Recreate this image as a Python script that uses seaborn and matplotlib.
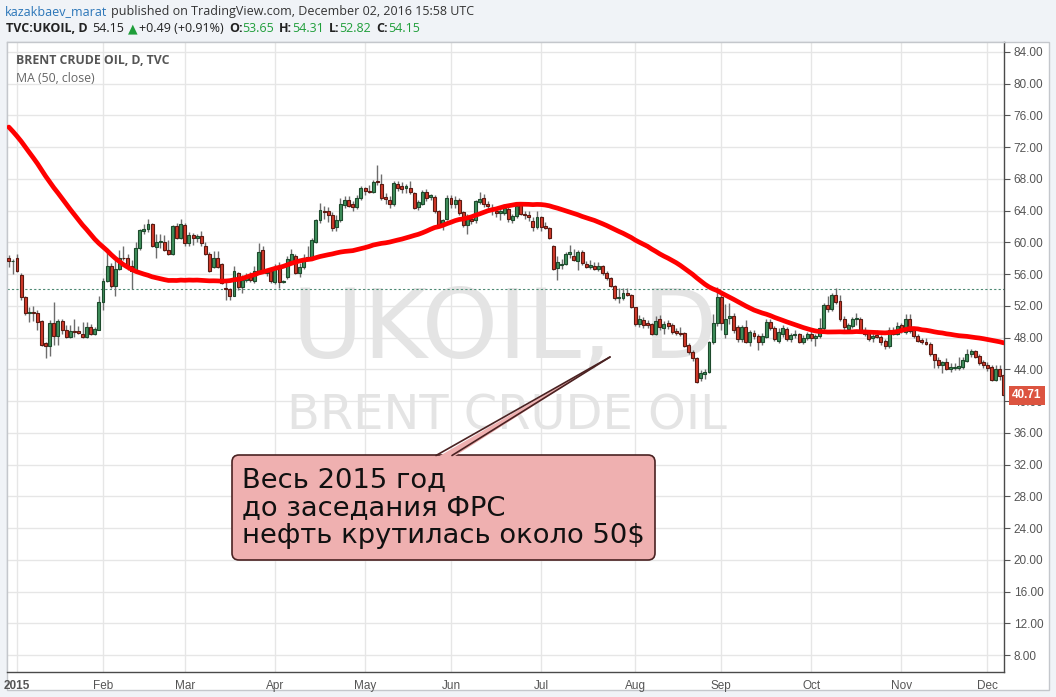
import matplotlib
matplotlib.use("Agg")
import numpy as np
import pandas as pd
import matplotlib.pyplot as plt
import seaborn as sns
from matplotlib.patches import FancyBboxPatch, Polygon, Rectangle
from matplotlib.transforms import Affine2D, blended_transform_factory

# closes before the visible window (needed for the 50-day MA)
pre_closes = [85.40, 86.22, 84.71, 86.83, 86.13, 85.83, 85.96, 87.12, 86.24, 85.86,
              84.78, 82.82, 82.95, 82.86, 83.39, 81.67, 81.67, 80.38, 77.92, 79.41,
              79.31, 78.47, 78.10, 79.33, 80.36, 79.68, 78.33, 77.75, 72.58, 70.15,
              72.54, 70.54, 69.92, 69.64, 69.07, 66.19, 66.84, 64.24, 63.68, 61.85,
              61.06, 59.86, 61.18, 59.27, 61.38, 60.11, 61.69, 60.24, 57.88]

# daily bars [open, high, low, close]
dec14 = [[58.0, 58.4, 56.9, 57.6], [57.6, 57.9, 56.0, 57.7]]
jan = [[58.1, 58.6, 56.3, 56.4], [55.9, 56.2, 52.8, 53.1], [53.1, 53.2, 50.9, 51.1],
       [51.1, 51.9, 50.0, 51.2], [51.2, 52.0, 50.1, 51.1], [51.1, 51.5, 49.0, 50.0],
       [50.1, 50.2, 47.0, 47.1], [47.3, 47.4, 45.4, 46.9], [46.9, 50.2, 45.7, 49.8],
       [49.8, 52.5, 47.1, 48.2], [48.2, 50.4, 47.1, 50.1], [50.1, 50.4, 48.5, 48.9],
       [49.0, 49.6, 48.0, 48.1], [48.1, 49.6, 48.0, 48.8], [48.8, 50.4, 48.1, 48.7],
       [48.8, 49.5, 48.4, 48.6], [48.5, 50.0, 48.0, 48.1], [48.1, 50.0, 47.9, 49.3],
       [49.3, 49.7, 48.3, 48.5], [48.5, 49.4, 48.3, 49.1], [49.0, 53.2, 48.9, 52.5]]
feb = [[52.5, 55.5, 51.5, 55.1], [55.1, 59.0, 55.0, 57.0], [57.0, 57.4, 54.3, 54.5],
       [54.5, 57.8, 53.3, 56.65], [56.6, 59.0, 56.5, 58.1], [58.1, 59.6, 57.8, 58.0],
       [58.0, 58.6, 56.5, 56.9], [57.0, 57.8, 54.1, 56.4], [56.5, 60.1, 56.4, 59.3],
       [59.3, 61.7, 59.1, 61.6], [61.5, 62.3, 61.0, 61.7], [61.7, 63.0, 61.3, 62.3],
       [62.3, 62.5, 59.4, 59.5], [59.4, 61.1, 58.0, 60.1], [60.1, 61.1, 59.3, 60.2],
       [60.1, 60.9, 58.9, 59.0], [59.0, 60.3, 58.4, 58.6], [58.6, 62.2, 58.4, 62.1],
       [62.1, 62.4, 60.4, 60.6], [60.6, 62.9, 60.4, 62.3]]
mar = [[62.2, 62.4, 59.5, 59.9], [59.9, 61.3, 59.5, 60.9], [60.9, 61.2, 59.7, 60.5],
       [60.5, 61.1, 60.0, 60.8], [60.8, 61.4, 59.6, 59.9], [59.5, 60.1, 58.4, 58.6],
       [58.5, 58.8, 56.3, 56.45], [56.95, 58.95, 56.8, 58.0], [58.0, 58.9, 56.8, 56.95],
       [57.3, 57.4, 54.7, 54.85], [54.2, 55.0, 52.8, 54.1], [54.1, 54.2, 52.75, 53.3],
       [53.3, 57.0, 53.2, 56.4], [56.1, 56.3, 54.0, 54.35], [54.4, 55.9, 53.6, 55.3],
       [55.3, 56.2, 55.0, 55.8], [55.9, 56.3, 55.0, 55.3], [55.1, 57.0, 54.9, 56.45],
       [56.45, 59.9, 56.3, 58.85], [59.0, 59.5, 56.2, 56.3], [56.1, 56.7, 55.8, 56.4],
       [56.4, 56.8, 54.9, 55.1]]
apr = [[55.05, 57.3, 54.8, 56.85], [56.85, 57.5, 54.2, 55.05], [55.05, 55.3, 54.9, 55.1],
       [55.6, 58.3, 55.4, 57.9], [57.6, 59.2, 57.3, 58.5], [58.3, 58.6, 56.0, 56.2],
       [56.1, 57.4, 55.6, 56.9], [56.9, 58.6, 56.6, 58.1], [58.1, 59.6, 57.8, 58.2],
       [58.1, 60.5, 57.9, 60.3], [60.1, 63.0, 59.9, 62.8], [62.8, 65.0, 62.5, 64.1],
       [64.0, 64.6, 62.9, 63.85], [63.95, 64.5, 62.6, 63.5], [63.5, 63.8, 61.4, 61.8],
       [62.0, 63.4, 61.5, 62.8], [62.8, 65.6, 62.6, 64.85], [64.7, 65.9, 64.3, 65.4],
       [65.4, 65.9, 64.5, 64.6], [64.85, 65.2, 64.0, 64.5], [64.5, 66.0, 64.2, 65.55],
       [65.55, 67.1, 65.4, 66.8]]
may = [[66.8, 67.0, 66.0, 66.5], [66.5, 67.3, 66.2, 66.4], [66.4, 67.9, 66.2, 67.6],
       [67.75, 69.7, 67.3, 67.6], [67.4, 68.6, 65.3, 65.6], [65.7, 66.2, 64.9, 65.5],
       [65.4, 65.8, 64.4, 64.8], [64.8, 67.7, 64.6, 67.45], [67.4, 67.8, 66.5, 66.9],
       [67.1, 67.6, 66.2, 66.7], [66.8, 67.4, 66.2, 67.1], [66.8, 67.8, 66.1, 66.3],
       [66.2, 66.4, 64.2, 64.4], [64.5, 65.4, 64.1, 65.1], [64.9, 66.6, 64.7, 66.4],
       [66.4, 66.7, 65.2, 65.55], [65.7, 66.1, 65.3, 66.0], [65.7, 66.0, 63.7, 63.9],
       [63.96, 64.1, 61.9, 62.2], [62.2, 63.0, 61.6, 62.8], [63.0, 66.0, 62.8, 65.55]]
jun = [[65.55, 66.0, 64.4, 64.9], [64.85, 65.8, 64.4, 65.35], [65.35, 65.6, 63.5, 63.75],
       [63.8, 64.0, 61.9, 62.2], [62.2, 63.6, 61.1, 63.3], [63.0, 63.5, 62.3, 62.7],
       [62.8, 65.4, 62.5, 65.2], [65.1, 66.4, 64.8, 65.5], [65.55, 66.1, 64.5, 64.8],
       [64.85, 65.2, 63.9, 64.6], [64.1, 64.8, 63.4, 64.4], [64.0, 64.5, 63.2, 63.7],
       [63.7, 64.6, 62.8, 63.9], [63.75, 64.9, 63.4, 64.3], [64.2, 64.5, 62.6, 62.9],
       [62.8, 63.6, 62.5, 63.3], [63.3, 64.9, 63.1, 64.6], [64.85, 65.1, 63.4, 63.6],
       [63.6, 64.0, 63.0, 63.4], [63.5, 63.9, 62.7, 63.25], [62.7, 63.2, 61.5, 61.9],
       [61.9, 63.9, 61.7, 63.15]]
jul = [[63.15, 63.3, 61.4, 62.0], [62.1, 62.6, 61.7, 61.8], [61.8, 62.0, 60.4, 60.5],
       [59.55, 59.7, 56.5, 56.7], [56.8, 58.3, 55.3, 57.5], [57.1, 57.9, 56.6, 57.3],
       [57.3, 58.8, 57.1, 58.5], [58.6, 59.7, 58.0, 58.8], [58.3, 59.2, 57.6, 57.8],
       [57.6, 59.0, 56.5, 58.8], [58.8, 59.0, 57.2, 57.4], [57.3, 57.7, 56.8, 56.95],
       [56.95, 57.8, 56.7, 57.2], [57.0, 57.5, 56.5, 56.6], [56.6, 57.5, 56.4, 57.0],
       [57.0, 57.2, 55.9, 56.2], [56.1, 56.4, 55.3, 55.5], [55.5, 55.7, 54.4, 54.5],
       [54.5, 54.6, 52.8, 52.95], [52.95, 54.3, 52.4, 53.1], [52.95, 54.3, 52.7, 53.6],
       [53.6, 54.3, 53.2, 53.4], [53.4, 53.5, 51.7, 51.8]]
aug = [[51.8, 51.9, 49.5, 49.7], [49.7, 50.8, 49.4, 50.35], [50.2, 50.6, 49.2, 49.6],
       [49.8, 50.2, 49.2, 49.6], [49.7, 49.9, 48.3, 48.45], [48.45, 50.7, 48.3, 50.1],
       [50.3, 50.8, 49.0, 49.3], [49.2, 50.1, 48.5, 49.7], [49.8, 50.2, 49.1, 49.5],
       [49.6, 49.9, 48.5, 48.75], [48.8, 49.2, 48.3, 48.55], [48.55, 49.3, 48.2, 48.5],
       [48.55, 48.7, 46.8, 46.95], [47.1, 47.3, 45.9, 46.2], [46.2, 46.4, 45.1, 45.4],
       [45.4, 45.5, 42.3, 42.45], [42.9, 43.9, 42.5, 43.5], [43.4, 44.0, 42.8, 43.7],
       [43.7, 47.6, 43.5, 47.4], [47.4, 51.0, 47.2, 49.9], [49.9, 54.4, 49.5, 53.1]]
sep = [[53.1, 53.5, 49.0, 49.8], [48.5, 52.3, 48.0, 50.4], [50.5, 52.4, 49.7, 50.7],
       [50.7, 51.1, 48.6, 49.0], [49.4, 49.6, 47.5, 47.8], [47.8, 49.6, 47.5, 49.4],
       [49.4, 50.2, 47.3, 47.5], [47.5, 49.0, 47.0, 48.75], [48.6, 48.9, 47.8, 48.2],
       [48.2, 48.4, 46.4, 47.4], [47.4, 48.6, 47.1, 48.2], [48.1, 50.3, 47.9, 50.0],
       [50.0, 50.4, 48.9, 49.25], [49.2, 49.5, 47.6, 47.8], [47.6, 49.2, 47.3, 48.75],
       [48.5, 49.6, 48.1, 49.2], [49.05, 49.3, 47.6, 47.8], [47.8, 48.6, 47.5, 48.3],
       [48.3, 48.9, 47.9, 48.4], [48.4, 48.6, 47.3, 47.4], [47.4, 48.3, 47.2, 47.9],
       [48.0, 48.7, 47.7, 48.45]]
oct_ = [[48.4, 48.8, 47.6, 48.0], [48.0, 48.4, 46.9, 48.2], [48.2, 50.5, 48.0, 49.2],
        [49.2, 52.4, 49.0, 52.1], [52.1, 53.3, 51.2, 51.6], [51.6, 53.6, 51.3, 53.4],
        [53.4, 54.2, 52.3, 52.5], [52.6, 53.4, 50.1, 50.3], [50.3, 50.7, 48.9, 49.3],
        [49.05, 49.8, 48.6, 49.6], [49.5, 50.6, 49.2, 50.3], [50.3, 51.1, 49.6, 50.5],
        [50.4, 50.6, 48.7, 48.9], [49.0, 49.3, 48.2, 48.45], [48.6, 48.9, 47.6, 47.8],
        [47.9, 48.6, 47.4, 48.2], [48.3, 48.9, 47.9, 48.1], [48.1, 48.3, 47.1, 47.4],
        [47.6, 47.8, 46.6, 47.0], [46.9, 49.3, 46.7, 49.0], [49.0, 49.4, 48.3, 48.5],
        [48.5, 50.0, 48.3, 49.5]]
nov = [[49.6, 49.9, 48.6, 48.85], [48.75, 51.0, 48.5, 50.3], [50.3, 51.0, 48.6, 48.8],
       [48.95, 49.1, 47.9, 48.2], [48.2, 48.4, 47.4, 47.6], [47.7, 48.0, 47.2, 47.4],
       [47.5, 47.9, 47.1, 47.2], [47.2, 47.5, 45.7, 45.9], [45.9, 46.0, 44.2, 45.2],
       [45.2, 45.5, 44.2, 44.5], [44.55, 45.1, 43.6, 44.9], [44.9, 45.4, 43.9, 44.0],
       [44.0, 44.8, 43.7, 44.25], [44.2, 44.8, 43.9, 44.2], [44.2, 45.5, 43.9, 44.4],
       [44.3, 45.6, 44.0, 45.2], [45.1, 46.6, 44.9, 45.95], [45.9, 46.6, 45.5, 46.3],
       [46.3, 46.5, 45.4, 45.6], [45.7, 45.9, 44.5, 44.8], [44.9, 45.2, 44.2, 44.5]]
dec = [[44.6, 44.9, 43.8, 44.2], [44.25, 44.6, 42.5, 42.65], [42.65, 44.6, 42.5, 44.1],
       [44.1, 44.6, 42.7, 43.15], [43.3, 43.4, 40.6, 40.71]]

month_labels = ["2015", "Feb", "Mar", "Apr", "May", "Jun", "Jul", "Aug", "Sep", "Oct", "Nov", "Dec"]
price_ticks = list(range(8, 88, 4))
last_price = 40.71
current_price = 54.15

W, H = 1056, 697

dates = pd.bdate_range("2014-12-30", "2015-12-07")
dates = dates[dates != pd.Timestamp("2015-01-01")]
bars = dec14 + jan + feb + mar + apr + may + jun + jul + aug + sep + oct_ + nov + dec
df = pd.DataFrame(bars, columns=["o", "h", "l", "c"])
df["date"] = dates
df["i"] = np.arange(len(df))
allc = pd.Series(pre_closes + df["c"].tolist())
df["ma"] = allc.rolling(50).mean().iloc[len(pre_closes):].values

sns.set_style("white")
plt.rcParams["font.family"] = ["Liberation Sans", "DejaVu Sans"]

fig = plt.figure(figsize=(W / 100, H / 100), dpi=100)
fig.patch.set_facecolor("#f0f3f7")
px = Affine2D().scale(1 / W, -1 / H).translate(0, 1) + fig.transFigure

# chart panel (behind the axes)
fig.patches.append(Rectangle((7, 42), 1042, 648, transform=px, facecolor="white",
                             edgecolor="#c4c7cc", lw=1, zorder=-1))

ax = fig.add_axes([7 / W, 1 - 672 / H, (1004 - 7) / W, (672 - 42) / H])
ax.set_facecolor("white")
ax.set_xlim(-0.44, 243.05)
ax.set_ylim(5.86, 85.26)

# watermark
ax.text(505, 358, "UKOIL, D", transform=px, ha="center", va="baseline",
        fontsize=70, color="#e4e4e4", family="DejaVu Sans", zorder=0.6)
ax.text(507, 429, "BRENT CRUDE OIL", transform=px, ha="center", va="baseline",
        fontsize=34.5, color="#e4e4e4", family="DejaVu Sans", zorder=0.6)

# current price dotted line
ax.axhline(current_price, color="#4e8a74", lw=0.8, ls=(0, (2, 2)), zorder=1)

# candles
up = df["c"] >= df["o"]
ax.vlines(df["i"], df["l"], df["h"], color="#6e6e6e", lw=1, zorder=2)
body_up = (df["c"] - df["o"]).clip(lower=0.04)
body_dn = (df["o"] - df["c"]).clip(lower=0.04)
ax.bar(df["i"][up], body_up[up], bottom=df["o"][up], width=0.72,
       color="#3f8f5c", edgecolor="#1d4a2c", lw=0.8, zorder=3)
ax.bar(df["i"][~up], body_dn[~up], bottom=df["c"][~up], width=0.72,
       color="#d2392a", edgecolor="#5a1a12", lw=0.8, zorder=3)

# moving average
sns.lineplot(x=df["i"], y=df["ma"], ax=ax, color="#ff0000", linewidth=3.4, zorder=4)

# axes styling
month_first = df.groupby(df["date"].dt.to_period("M"))["i"].min().values
month_first = [m for m in month_first if m > 1]
ax.set_xticks(month_first)
ax.set_xticklabels(month_labels)
ax.get_xticklabels()[0].set_fontweight("bold")
ax.yaxis.tick_right()
ax.set_yticks(price_ticks)
ax.set_yticklabels([f"{v:.2f}" for v in price_ticks])
ax.tick_params(axis="y", length=4, width=0.8, color="#555555", labelcolor="#555555",
               labelsize=8.5, pad=3)
ax.tick_params(axis="x", length=4, width=0.8, color="#555555", labelcolor="#555555",
               labelsize=8.5, pad=2)
ax.grid(True, color="#e6e6e6", lw=1)
ax.set_axisbelow(True)
ax.set_xlabel("")
ax.set_ylabel("")
for s in ["top", "left"]:
    ax.spines[s].set_color("#c4c7cc")
    ax.spines[s].set_linewidth(1)
for s in ["right", "bottom"]:
    ax.spines[s].set_color("#4a4a4a")
    ax.spines[s].set_linewidth(1)

# last price tag, drawn over the price scale
tr = blended_transform_factory(ax.transAxes, ax.transData)
ax.annotate("40.71", xy=(1.0, last_price), xycoords=tr, xytext=(6, 0),
            textcoords="offset points", ha="left", va="center",
            fontsize=8.5, fontweight="bold", color="white", annotation_clip=False, zorder=6,
            bbox=dict(boxstyle="square,pad=0.3", fc="#dc5440", ec="none"))

# panel labels
ax.text(16, 61, "BRENT CRUDE OIL, D, TVC", transform=px, ha="left", va="center",
        fontsize=8.8, fontweight="bold", color="#555555", family="Open Sans", zorder=6)
ax.text(16, 78, "MA (50, close)", transform=px, ha="left", va="center",
        fontsize=8.8, color="#666666", family="Open Sans", zorder=6)

# callout
pink = "#efb0b0"
edge = "#4a2222"
box = FancyBboxPatch((232, 455), 423, 105, boxstyle="round,pad=0,rounding_size=7",
                     transform=px, fc=pink, ec=edge, lw=1.2, zorder=7)
ax.add_patch(box)
ax.add_patch(Polygon([(436, 458), (452, 458), (610, 357)], closed=True, transform=px,
                     fc=pink, ec="none", zorder=8))
ax.plot([436, 610], [455.5, 357], transform=px, color=edge, lw=1.2, zorder=8)
ax.plot([452, 610], [455.5, 357], transform=px, color=edge, lw=1.2, zorder=8)
note_lines = ["Весь 2015 год", "до заседания ФРС", "нефть крутилась около 50$"]
for k, line in enumerate(note_lines):
    ax.text(242, 487 + 28 * k, line, transform=px, ha="left", va="baseline",
            fontsize=19.7, color="#111111", family="DejaVu Sans", zorder=9)

# header rows
renderer = fig.canvas.get_renderer()
green = "#1f9e3a"


def put_row(x, y, pieces):
    for s, color, weight, gap in pieces:
        t = fig.text(x / W, 1 - y / H, s, ha="left", va="center", fontsize=9,
                     color=color, fontweight=weight, family=["Open Sans", "DejaVu Sans"])
        x += t.get_window_extent(renderer).width + gap


put_row(5, 12, [("kazakbaev_marat", "#2a75b8", "normal", 3.5),
                ("published on TradingView.com, December 02, 2016 15:58 UTC", "#333333", "normal", 0)])
put_row(6, 29, [("TVC:UKOIL, D", "#222222", "bold", 5),
                ("54.15", "#222222", "normal", 3),
                ("▲", green, "normal", 2),
                ("+0.49 (+0.91%)", "#222222", "normal", 5),
                ("O:", "#222222", "bold", 0), ("53.65", green, "normal", 5),
                ("H:", "#222222", "bold", 0), ("54.31", green, "normal", 5),
                ("L:", "#222222", "bold", 0), ("52.82", green, "normal", 5),
                ("C:", "#222222", "bold", 0), ("54.15", green, "normal", 0)])

fig.savefig("out.png", dpi=100, facecolor=fig.get_facecolor())
plt.close(fig)
